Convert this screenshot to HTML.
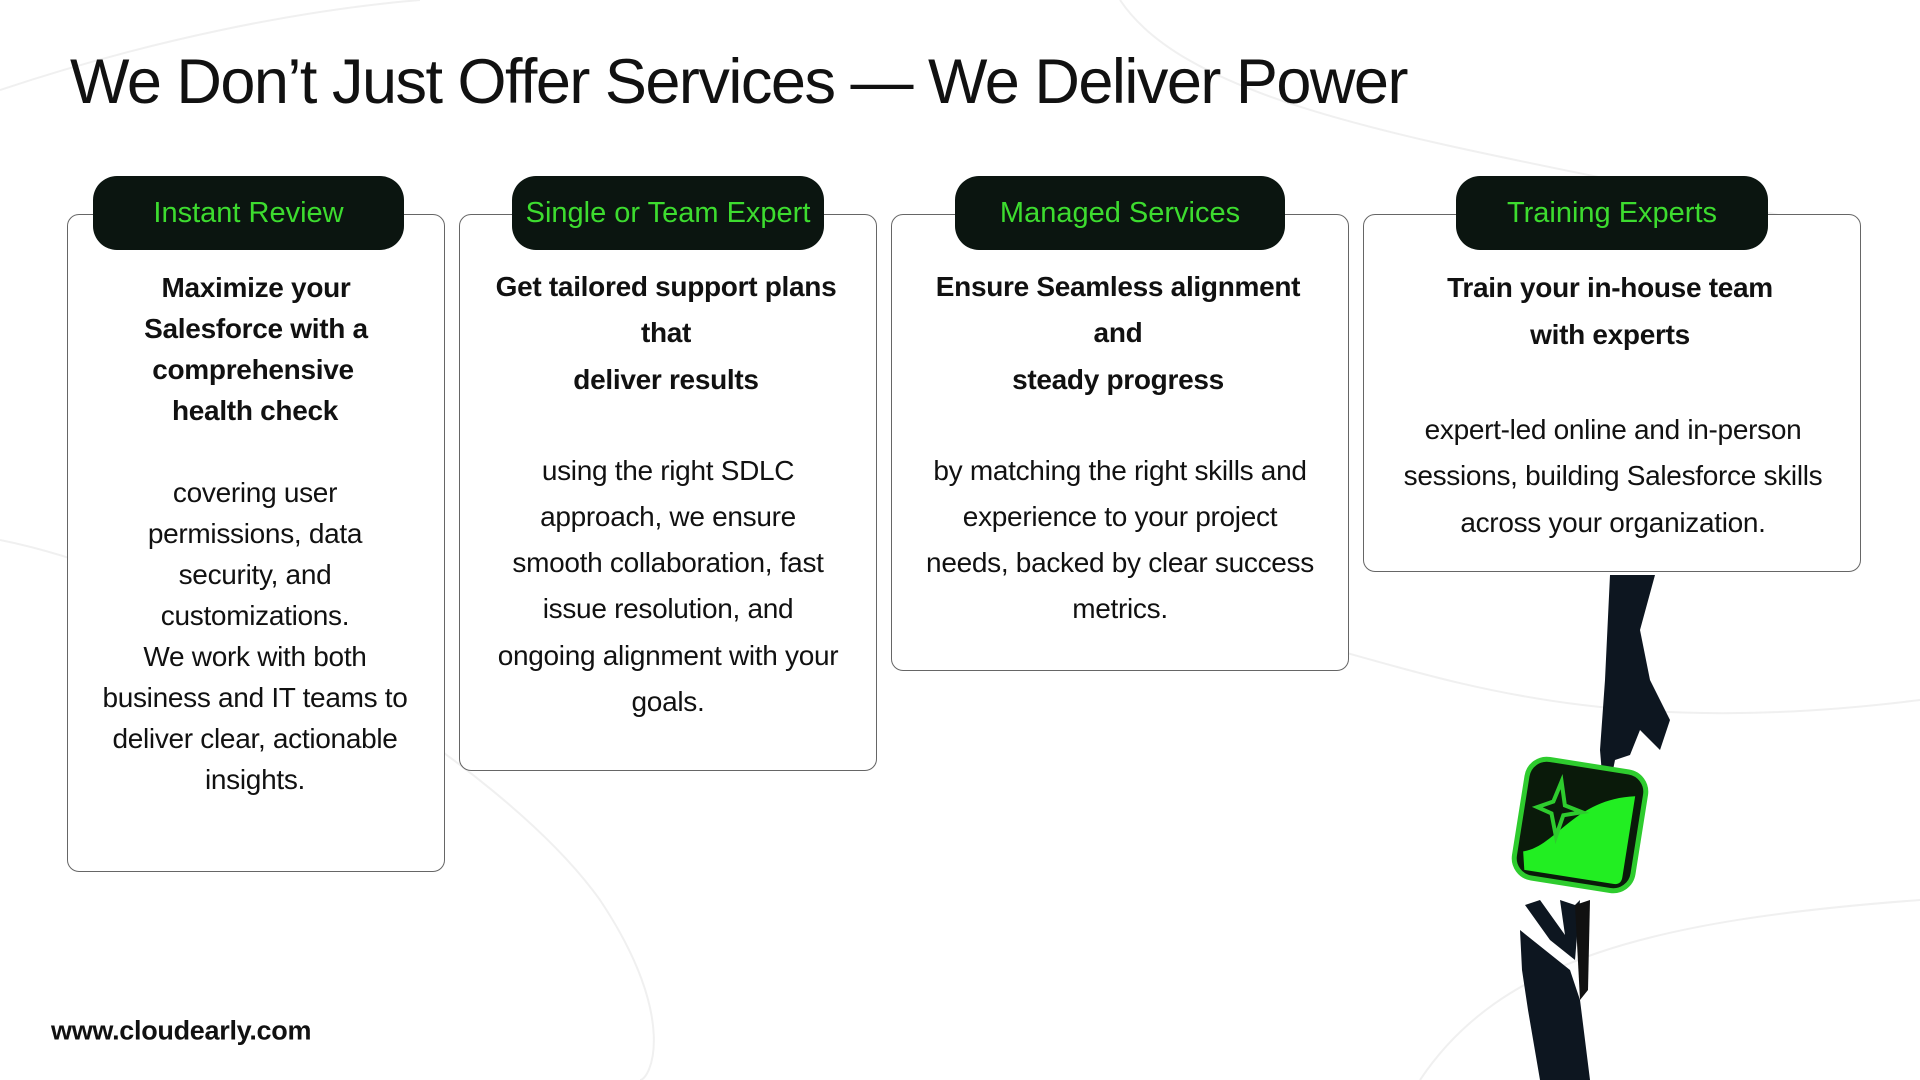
<!DOCTYPE html>
<html><head><meta charset="utf-8"><style>
*{margin:0;padding:0;box-sizing:border-box}
body{width:1920px;height:1080px;background:#fff;position:relative;overflow:hidden;font-family:"Liberation Sans",sans-serif;color:#111}
.t{position:absolute;white-space:nowrap;text-align:center;transform:translate(-50%,-50%);font-size:28px;letter-spacing:-0.3px}
.b{font-weight:bold;font-size:28px}
.card{position:absolute;border:1.5px solid #666;border-radius:12px;background:#fff}
.pill{position:absolute;background:#0b1510;border-radius:24px;color:#3ddc2f;font-size:29px;display:flex;align-items:center;justify-content:center}
</style></head><body>
<svg style="position:absolute;left:0;top:0" width="1920" height="1080" fill="none" stroke="#f0f0f0" stroke-width="2">
<path d="M0 90 C150 40 300 10 420 0"/><path d="M0 540 C200 580 500 760 600 900 C680 1020 650 1080 640 1080"/>
<path d="M1120 0 C1200 120 1500 150 1800 220"/><path d="M1300 640 C1450 680 1600 740 1920 700"/>
<path d="M1420 1080 C1500 960 1650 920 1920 900"/>
</svg>
<div class="t" style="left:70px;top:82px;transform:translateY(-50%);text-align:left;font-size:63px;letter-spacing:-1.5px">We Don’t Just Offer Services — We Deliver Power</div>

<div class="card" style="left:67px;top:214px;width:378px;height:658px"></div>
<div class="pill" style="left:93px;top:176px;width:311px;height:74px">Instant Review</div>
<div class="t b" style="left:256px;top:288px">Maximize your</div>
<div class="t b" style="left:256px;top:329px">Salesforce with a</div>
<div class="t b" style="left:253px;top:370px">comprehensive</div>
<div class="t b" style="left:255px;top:411px">health check</div>
<div class="t" style="left:255px;top:493px">covering user</div>
<div class="t" style="left:255px;top:534px">permissions, data</div>
<div class="t" style="left:255px;top:575px">security, and</div>
<div class="t" style="left:255px;top:616px">customizations.</div>
<div class="t" style="left:255px;top:657px">We work with both</div>
<div class="t" style="left:255px;top:698px">business and IT teams to</div>
<div class="t" style="left:255px;top:739px">deliver clear, actionable</div>
<div class="t" style="left:255px;top:780px">insights.</div>

<div class="card" style="left:459px;top:214px;width:418px;height:557px"></div>
<div class="pill" style="left:512px;top:176px;width:312px;height:74px">Single or Team Expert</div>
<div class="t b" style="left:666px;top:287px">Get tailored support plans</div>
<div class="t b" style="left:666px;top:333px">that</div>
<div class="t b" style="left:666px;top:380px">deliver results</div>
<div class="t" style="left:668px;top:471px">using the right SDLC</div>
<div class="t" style="left:668px;top:517px">approach, we ensure</div>
<div class="t" style="left:668px;top:563px">smooth collaboration, fast</div>
<div class="t" style="left:668px;top:609px">issue resolution, and</div>
<div class="t" style="left:668px;top:656px">ongoing alignment with your</div>
<div class="t" style="left:668px;top:702px">goals.</div>

<div class="card" style="left:891px;top:214px;width:458px;height:457px"></div>
<div class="pill" style="left:955px;top:176px;width:330px;height:74px">Managed Services</div>
<div class="t b" style="left:1118px;top:287px">Ensure Seamless alignment</div>
<div class="t b" style="left:1118px;top:333px">and</div>
<div class="t b" style="left:1118px;top:380px">steady progress</div>
<div class="t" style="left:1120px;top:471px">by matching the right skills and</div>
<div class="t" style="left:1120px;top:517px">experience to your project</div>
<div class="t" style="left:1120px;top:563px">needs, backed by clear success</div>
<div class="t" style="left:1120px;top:609px">metrics.</div>

<div class="card" style="left:1363px;top:214px;width:498px;height:358px"></div>
<div class="pill" style="left:1456px;top:176px;width:312px;height:74px">Training Experts</div>
<div class="t b" style="left:1610px;top:288px">Train your in-house team</div>
<div class="t b" style="left:1610px;top:335px">with experts</div>
<div class="t" style="left:1613px;top:430px">expert-led online and in-person</div>
<div class="t" style="left:1613px;top:476px">sessions, building Salesforce skills</div>
<div class="t" style="left:1613px;top:523px">across your organization.</div>

<svg style="position:absolute;left:1480px;top:570px" width="240" height="510">
<path d="M130 5 L175 5 L160 60 L170 110 L190 150 L180 180 L160 160 L150 185 L135 190 L125 240 L120 180 L125 110 Z" fill="#0d1620"/>
<g transform="rotate(9 100 255)">
<rect x="40" y="195" width="120" height="120" rx="20" fill="#0a1a0a" stroke="#2ecc2e" stroke-width="5"/>
<path d="M48 290 C80 280 90 230 150 218 L150 300 Q150 308 142 308 L52 308 Z" fill="#22ee22"/>
<path d="M75 215 L82 238 L100 242 L82 248 L78 270 L70 248 L55 244 L70 236 Z" fill="none" stroke="#2ecc2e" stroke-width="4"/>
</g>
<path d="M100 330 L95 390 L70 370 L45 335 L60 330 L85 365 L80 330 L95 335 Z M40 360 L90 400 L100 430 L110 510 L60 510 L48 440 L42 400 Z" fill="#0d1620"/>
<path d="M95 335 L110 330 L108 420 L100 430 Z" fill="#111"/>
</svg>

<div class="t b" style="left:51px;top:1031px;transform:translateY(-50%);text-align:left;font-size:27px">www.cloudearly.com</div>
</body></html>
